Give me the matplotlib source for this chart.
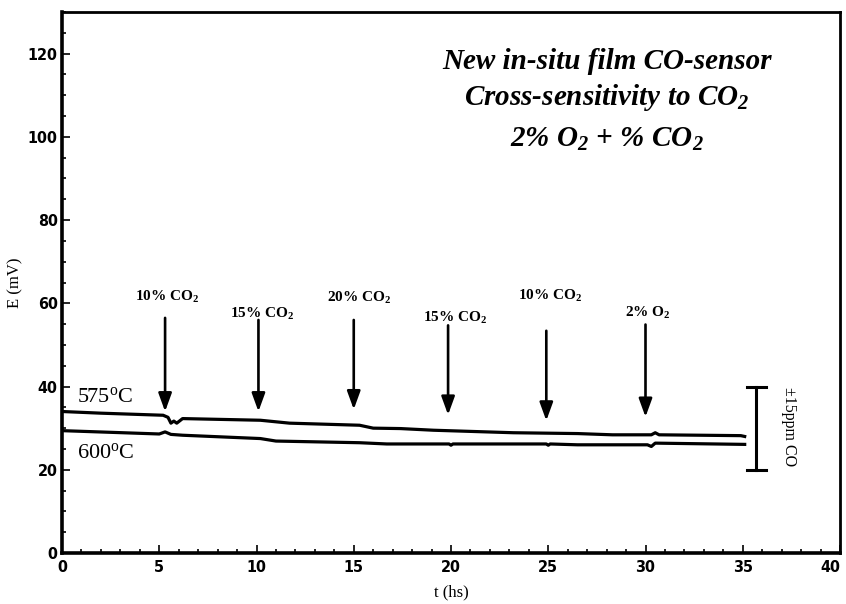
import matplotlib
matplotlib.use("Agg")
import matplotlib.pyplot as plt
from matplotlib.ticker import MultipleLocator

plt.rcParams['mathtext.fontset'] = 'custom'
plt.rcParams['mathtext.rm'] = 'Liberation Serif'
plt.rcParams['mathtext.it'] = 'Liberation Serif:italic'
plt.rcParams['mathtext.bf'] = 'Liberation Serif:bold'
plt.rcParams['mathtext.bfit'] = 'Liberation Serif:bold:italic'

# ---- data ----
t575 = [0, 2, 5.2, 5.45, 5.6, 5.75, 5.9, 6.2, 10.2, 11.7, 15.3, 16.0, 17.4, 19.1, 23.2, 26.5, 28.3, 30.3, 30.5, 30.7, 34.9, 35.1]
e575 = [34.0, 33.6, 33.1, 32.6, 31.2, 31.7, 31.2, 32.3, 31.9, 31.2, 30.7, 30.0, 29.9, 29.5, 28.9, 28.7, 28.4, 28.4, 28.9, 28.4, 28.2, 28.0]
t600 = [0, 5.0, 5.3, 5.6, 6.2, 10.2, 11.0, 15.3, 16.7, 19.9, 20.0, 20.1, 24.9, 25.0, 25.1, 26.5, 30.1, 30.3, 30.5, 35.1]
e600 = [29.4, 28.6, 29.1, 28.5, 28.3, 27.5, 26.9, 26.5, 26.2, 26.2, 25.9, 26.2, 26.2, 25.9, 26.2, 26.0, 26.0, 25.6, 26.4, 26.1]

arrow_t = [5.3, 10.1, 15.0, 19.85, 24.9, 30.0]
arrow_tail = [56.5, 56.0, 56.0, 54.7, 53.4, 54.9]
arrow_tip = [34.0, 34.0, 34.5, 33.2, 31.8, 32.7]
arrow_labels = ['10% CO$_\\mathbf{2}$', '15% CO$_\\mathbf{2}$', '20% CO$_\\mathbf{2}$',
                '15% CO$_\\mathbf{2}$', '10% CO$_\\mathbf{2}$', '2% O$_\\mathbf{2}$']
label_t = [5.4, 10.3, 15.3, 20.2, 25.1, 30.1]
label_y = [61.6, 57.5, 61.3, 56.4, 61.8, 57.8]

title_lines = ['New in-situ film CO-sensor', 'Cross-sensitivity to CO$_\\mathbfit{2}$',
               '2% O$_\\mathbfit{2}$ + % CO$_\\mathbfit{2}$']
title_y = [118.0, 109.4, 99.4]

xticks = [0, 5, 10, 15, 20, 25, 30, 35, 40]
yticks = [0, 20, 40, 60, 80, 100, 120]

fig = plt.figure(figsize=(8.46, 6.04), dpi=100)
ax = fig.add_axes([62/846, 1-553/604, (840-62)/846, (553-12)/604])

ax.plot(t575, e575, color='black', lw=2.3, solid_joinstyle='round')
ax.plot(t600, e600, color='black', lw=2.3, solid_joinstyle='round')

for xt, ta, tp in zip(arrow_t, arrow_tail, arrow_tip):
    ax.annotate('', xy=(xt, tp), xytext=(xt, ta),
                arrowprops=dict(arrowstyle='-|>,head_length=1.1,head_width=0.4',
                                color='black', lw=1.9, shrinkA=0, shrinkB=0))
for lt, ly, lab in zip(label_t, label_y, arrow_labels):
    ax.text(lt, ly, lab, ha='center', va='center', fontsize=11,
            family='Liberation Serif', fontweight='bold')

for ty, line in zip(title_y, title_lines):
    ax.text(28.0, ty, line, ha='center', va='center', fontsize=21,
            family='Liberation Serif', fontweight='bold', style='italic')

ax.text(0.75, 37.4, '575$^\\mathrm{o}$C', ha='left', va='center', fontsize=16, family='Liberation Serif')
ax.text(0.75, 24.0, '600$^\\mathrm{o}$C', ha='left', va='center', fontsize=16, family='Liberation Serif')

# scale bar
ax.plot([35.7, 35.7], [20, 40], color='black', lw=2.2)
ax.plot([35.2, 36.2], [40, 40], color='black', lw=2.2)
ax.plot([35.2, 36.2], [20, 20], color='black', lw=2.2)
ax.text(37.4, 30.3, '±15ppm CO', rotation=270, ha='center', va='center', fontsize=11.5,
        family='Liberation Serif')

ax.set_xlim(0, 40)
ax.set_ylim(0, 130)
ax.set_xticks(xticks)
ax.set_yticks(yticks)
ax.xaxis.set_minor_locator(MultipleLocator(1))
ax.yaxis.set_minor_locator(MultipleLocator(5))
ax.tick_params(which='both', direction='in', top=False, right=False, width=1.2)
ax.tick_params(which='major', length=6)
ax.tick_params(which='minor', length=3)
for lab in ax.get_xticklabels() + ax.get_yticklabels():
    lab.set_family('DejaVu Sans')
    lab.set_stretch('condensed')
    lab.set_fontweight('bold')
    lab.set_fontsize(11.5)
ax.get_xticklabels()[-1].set_horizontalalignment('right')
ax.tick_params(axis='x', pad=5)
ax.tick_params(axis='y', pad=3)

ax.spines['left'].set_linewidth(2.6)
ax.spines['bottom'].set_linewidth(2.6)
ax.spines['top'].set_linewidth(2.0)
ax.spines['right'].set_linewidth(2.0)

ax.set_xlabel('t (hs)', fontsize=12, family='Liberation Serif')
ax.set_ylabel('E (mV)', fontsize=12, family='Liberation Serif')
ax.yaxis.set_label_coords(-0.05, 0.5)
ax.xaxis.set_label_coords(0.5, -0.058)

fig.savefig('out.png', dpi=100)
